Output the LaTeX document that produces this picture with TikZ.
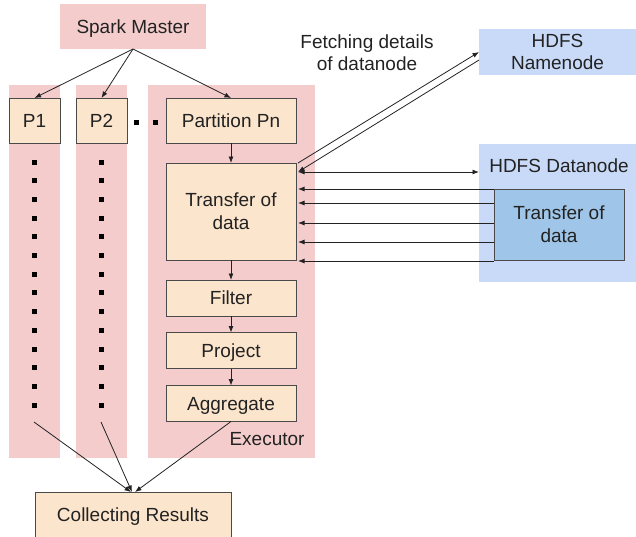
\documentclass[tikz,border=0pt]{standalone}
\usepackage{fontspec}
\setmainfont{Liberation Sans}
\usetikzlibrary{calc,arrows.meta}
\definecolor{pinkc}{HTML}{F4CCCC}
\definecolor{orangec}{HTML}{FCE5CD}
\definecolor{bluec}{HTML}{C9DAF8}
\definecolor{blue2}{HTML}{9FC5E8}
\definecolor{linec}{HTML}{222222}
\definecolor{borderc}{HTML}{4A4A4A}
\tikzset{
  bg/.style={fill=pinkc, draw=none, inner sep=0pt, outer sep=0pt, text depth=0pt},
  boxn/.style={draw=borderc, fill=orangec, line width=0.9pt, inner sep=0pt, outer sep=0pt, align=center, text=linec, text depth=0pt},
  bluebox/.style={fill=bluec, draw=none, inner sep=0pt, outer sep=0pt, align=center, text=linec},
  arr/.style={-{Latex[length=6.5pt,width=5pt]}, draw=linec, line width=0.8pt},
  darr/.style={{Latex[length=6.5pt,width=5pt]}-{Latex[length=6.5pt,width=5pt]}, draw=linec, line width=0.8pt},
  lbl/.style={text=linec, align=center, inner sep=0pt},
  dot/.style={fill=black, draw=none, minimum size=5pt, inner sep=0pt}
}
\begin{document}
\begin{tikzpicture}[x=1pt,y=-1pt, font=\fontsize{19}{22}\selectfont]
\useasboundingbox (0,0) rectangle (636,536);
% backgrounds
\node[bg, minimum width=146pt, minimum height=45pt] (master) at (133,26.5) {\textcolor{linec}{Spark Master}};
\node[bg, minimum width=51pt, minimum height=373pt] (col1) at (34.5,271.5) {};
\node[bg, minimum width=51pt, minimum height=373pt] (col2) at (101.5,271.5) {};
\node[bg, minimum width=167pt, minimum height=373pt] (col3) at (231.5,271.5) {};
% partitions
\node[boxn, minimum width=51pt, minimum height=45pt] (p1) at (34.5,120.5) {P1};
\node[boxn, minimum width=51pt, minimum height=45pt] (p2) at (101.5,120.5) {P2};
\node[boxn, minimum width=130pt, minimum height=45pt] (pn) at (231,120.5) {Partition Pn};
\node[boxn, minimum width=130pt, minimum height=97pt] (tr) at (231,211.5) {Transfer of\\[1pt]data};
\node[boxn, minimum width=130pt, minimum height=36pt] (filter) at (231,298) {Filter};
\node[boxn, minimum width=130pt, minimum height=36pt] (project) at (231,350.5) {Project};
\node[boxn, minimum width=130pt, minimum height=36pt] (agg) at (231,403.5) {Aggregate};
\node[lbl] (exec) at (267,439) {Executor};
\node[boxn, minimum width=196pt, minimum height=50pt] (collect) at (133,517) {};
\node[lbl] (collectlbl) at (133,517) {Collecting Results};
% HDFS
\node[bluebox, minimum width=157pt, minimum height=46pt] (nn) at (557.5,52) {HDFS\\[0pt]Namenode};
\node[bluebox, minimum width=157pt, minimum height=138pt] (dn) at (557.5,213) {};
\node[lbl] (dnlbl) at (559,166) {HDFS Datanode};
\node[draw=borderc, fill=blue2, line width=0.9pt, minimum width=130pt, minimum height=71pt, inner sep=0pt, outer sep=0pt, align=center, text=linec, text depth=0pt] (inner) at (559,224.5) {Transfer of\\[1pt]data};
\node[lbl] (fetch) at (367,53) {Fetching details\\[0pt]of datanode};
% dots
\foreach \k in {0,...,13} {
  \node[dot] (d1\k) at (34.5,{162+18.7*\k}) {};
  \node[dot] (d2\k) at (101.5,{162+18.7*\k}) {};
}
\node[dot] (hd1) at (136,122) {};
\node[dot] (hd2) at (155,122) {};
% master arrows
\draw[arr] (master.south) -- (p1.north);
\draw[arr] (master.south) -- (p2.north);
\draw[arr] (master.south) -- (pn.north);
% executor chain
\draw[arr] (pn.south) -- (tr.north);
\draw[arr] (tr.south) -- (filter.north);
\draw[arr] (filter.south) -- (project.north);
\draw[arr] (project.south) -- (agg.north);
% namenode arrows
\coordinate (trA) at ($(tr.north east)+(2,0)$);
\coordinate (trB) at ($(tr.north east)+(2,9)$);
\coordinate (nnB) at ($(nn.west)+(0,8)$);
\coordinate (dnA) at (dn.west |- trB);
\draw[arr] (trA) -- (nn.west);
\draw[arr] (nnB) -- (trB);
\draw[darr] (trB) -- (dnA);
% data transfer arrows
\foreach \yy [count=\i] in {189,203,223,242,261} {
  \coordinate (src\i) at (inner.west |- 0,\yy);
  \coordinate (dst\i) at ($(tr.east |- 0,\yy)+(2,0)$);
  \draw[arr] (src\i) -- (dst\i);
}
% collecting arrows
\coordinate (c1) at (34,422);
\coordinate (c2) at (101,422);
\draw[arr] (c1) -- ($(collect.north)+(-2,0)$);
\draw[arr] (c2) -- ($(collect.north)+(-1,0)$);
\draw[arr] (agg.south) -- ($(collect.north)+(2,0)$);
\end{tikzpicture}
\end{document}
